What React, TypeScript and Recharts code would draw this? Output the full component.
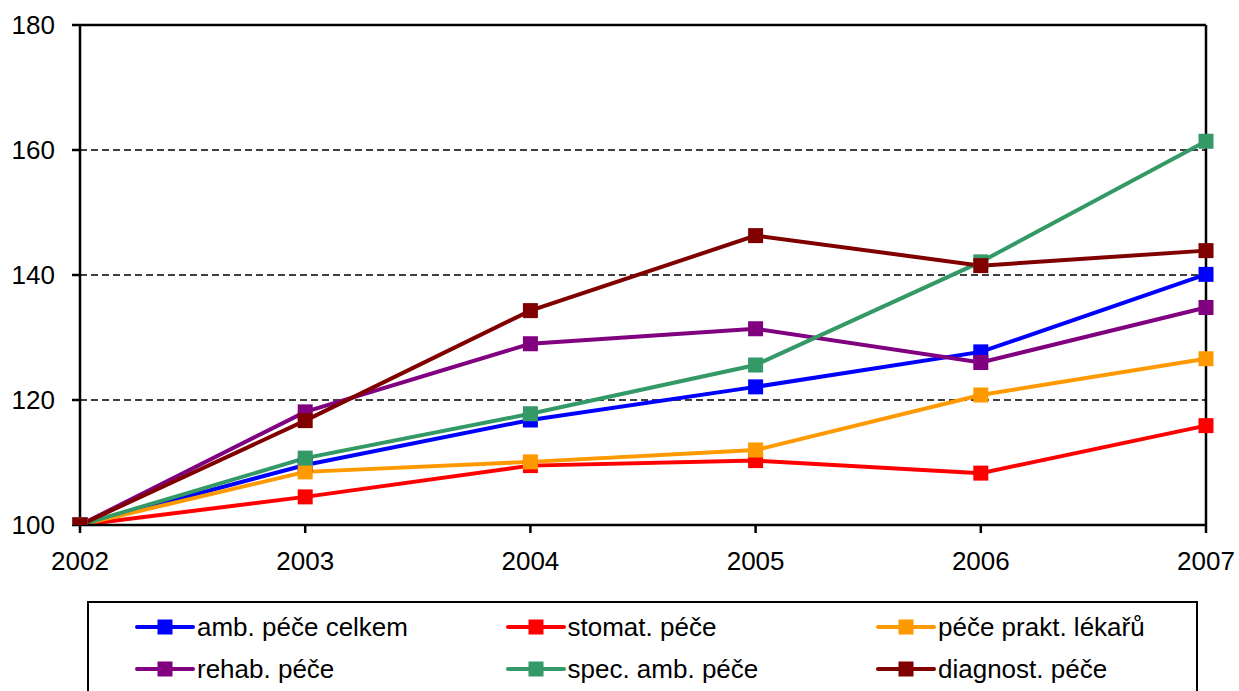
import React from 'react';
import { LineChart, Line, XAxis, YAxis, CartesianGrid, ReferenceLine } from 'recharts';

const years = ['2002', '2003', '2004', '2005', '2006', '2007'];
const ambCelkem = [100, 109.6, 116.8, 122.1, 127.7, 140.1];
const stomat = [100, 104.5, 109.5, 110.3, 108.3, 115.9];
const praktLekaru = [100, 108.5, 110.1, 112.0, 120.8, 126.6];
const rehab = [100, 118.1, 129.0, 131.4, 126.0, 134.8];
const specAmb = [100, 110.7, 117.8, 125.6, 142.1, 161.4];
const diagnost = [100, 116.7, 134.3, 146.3, 141.5, 143.9];
const yTicks = [100, 120, 140, 160, 180];

const series = [
    { key: 'amb', name: 'amb. péče celkem', color: '#0000FF', values: ambCelkem },
    { key: 'stomat', name: 'stomat. péče', color: '#FF0000', values: stomat },
    { key: 'prakt', name: 'péče prakt. lékařů', color: '#FF9900', values: praktLekaru },
    { key: 'rehab', name: 'rehab. péče', color: '#800080', values: rehab },
    { key: 'spec', name: 'spec. amb. péče', color: '#339966', values: specAmb },
    { key: 'diag', name: 'diagnost. péče', color: '#800000', values: diagnost },
];

const data = years.map((year, i) => {
    const row: any = { year };
    series.forEach(s => { row[s.key] = s.values[i]; });
    return row;
});

const FONT = 'Arial, "Liberation Sans", sans-serif';

const SquareDot = (color: string) => (props: any) => {
    const { cx, cy } = props;
    if (cx == null || cy == null) return null;
    return <rect x={cx - 7.5} y={cy - 7.5} width={15} height={15} fill={color} />;
};

const App: React.FC = () => {
    return (
        <div style={{ position: 'absolute', left: 0, top: 0, width: 1239, height: 691, background: '#fff', overflow: 'hidden', fontFamily: FONT }}>
            <LineChart width={1239} height={691} data={data} margin={{ top: 25, right: 33, left: 0, bottom: 0 }}>
                <CartesianGrid vertical={false} stroke="#000" strokeDasharray="7 4" strokeWidth={1.3} />
                <XAxis
                    dataKey="year"
                    height={166}
                    stroke="#000"
                    strokeWidth={2.5}
                    tickSize={8}
                    tick={{ fill: '#000', fontSize: 26, fontFamily: FONT, dy: 17 }}
                    interval={0}
                />
                <YAxis
                    width={80}
                    domain={[100, 180]}
                    ticks={yTicks}
                    stroke="#000"
                    strokeWidth={2.5}
                    tickSize={8}
                    tick={{ fill: '#000', fontSize: 26, fontFamily: FONT, dx: -15 }}
                    allowDataOverflow
                />
                <ReferenceLine y={180} stroke="#000" strokeWidth={2.5} />
                <ReferenceLine x="2007" stroke="#000" strokeWidth={2.5} />
                {series.map(s => (
                    <Line
                        key={s.key}
                        type="linear"
                        dataKey={s.key}
                        name={s.name}
                        stroke={s.color}
                        strokeWidth={4}
                        dot={SquareDot(s.color)}
                        activeDot={false}
                        isAnimationActive={false}
                    />
                ))}
            </LineChart>
            <div style={{ position: 'absolute', left: 87, top: 601, width: 1111, height: 120, border: '2px solid #000', boxSizing: 'border-box' }}>
                {series.map((s, i) => {
                    const col = i % 3;
                    const row = Math.floor(i / 3);
                    return (
                        <div key={s.key} style={{ position: 'absolute', left: 46 + col * 370.5, top: 24 + row * 42 - 16, height: 32, display: 'flex', alignItems: 'center' }}>
                            <svg width={60} height={20}>
                                <line x1={2} y1={10} x2={58} y2={10} stroke={s.color} strokeWidth={4} strokeLinecap="round" />
                                <rect x={22.5} y={2.5} width={15} height={15} fill={s.color} />
                            </svg>
                            <span style={{ fontSize: 26, color: '#000', marginLeft: 2, whiteSpace: 'nowrap' }}>{s.name}</span>
                        </div>
                    );
                })}
            </div>
        </div>
    );
};

export default App;
